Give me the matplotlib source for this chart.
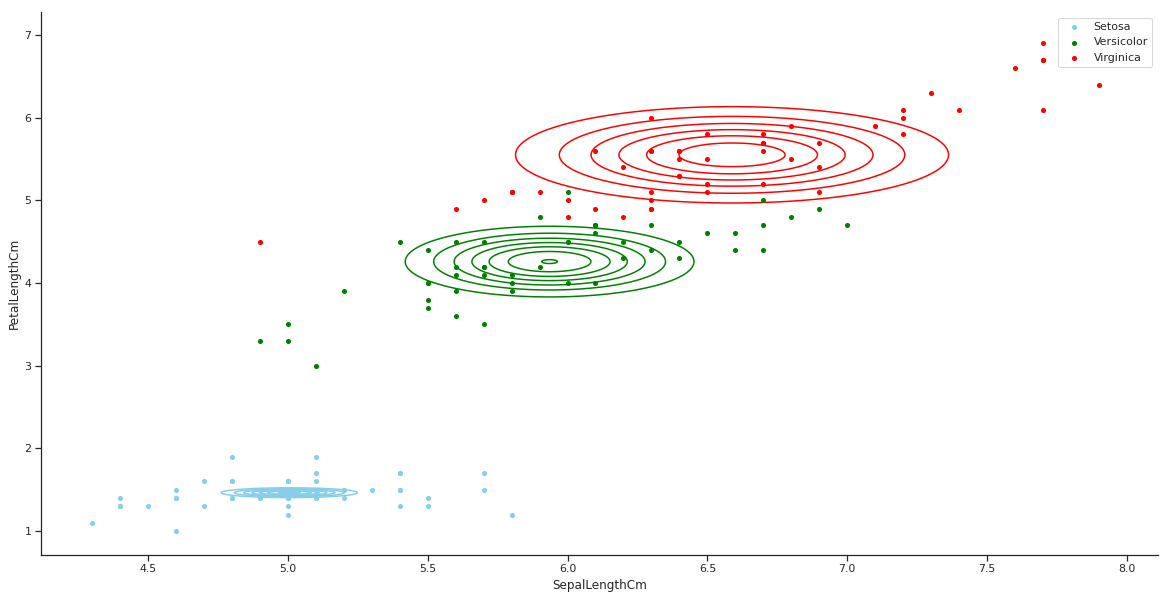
import numpy as np
import matplotlib
matplotlib.use("Agg")
import matplotlib.pyplot as plt
import matplotlib.ticker as mticker
import seaborn as sns

species = ["Setosa", "Versicolor", "Virginica"]
colors = ["skyblue", "green", "red"]

setosa_sepal = [5.1, 4.9, 4.7, 4.6, 5.0, 5.4, 4.6, 5.0, 4.4, 4.9, 5.4, 4.8, 4.8, 4.3, 5.8, 5.7, 5.4, 5.1, 5.7, 5.1,
                5.4, 5.1, 4.6, 5.1, 4.8, 5.0, 5.0, 5.2, 5.2, 4.7, 4.8, 5.4, 5.2, 5.5, 4.9, 5.0, 5.5, 4.9, 4.4, 5.1,
                5.0, 4.5, 4.4, 5.0, 5.1, 4.8, 5.1, 4.6, 5.3, 5.0]
setosa_petal = [1.4, 1.4, 1.3, 1.5, 1.4, 1.7, 1.4, 1.5, 1.4, 1.5, 1.5, 1.6, 1.4, 1.1, 1.2, 1.5, 1.3, 1.4, 1.7, 1.5,
                1.7, 1.5, 1.0, 1.7, 1.9, 1.6, 1.6, 1.5, 1.4, 1.6, 1.6, 1.5, 1.5, 1.4, 1.5, 1.2, 1.3, 1.5, 1.3, 1.5,
                1.3, 1.3, 1.3, 1.6, 1.9, 1.4, 1.6, 1.4, 1.5, 1.4]
versicolor_sepal = [7.0, 6.4, 6.9, 5.5, 6.5, 5.7, 6.3, 4.9, 6.6, 5.2, 5.0, 5.9, 6.0, 6.1, 5.6, 6.7, 5.6, 5.8, 6.2, 5.6,
                    5.9, 6.1, 6.3, 6.1, 6.4, 6.6, 6.8, 6.7, 6.0, 5.7, 5.5, 5.5, 5.8, 6.0, 5.4, 6.0, 6.7, 6.3, 5.6, 5.5,
                    5.5, 6.1, 5.8, 5.0, 5.6, 5.7, 5.7, 6.2, 5.1, 5.7]
versicolor_petal = [4.7, 4.5, 4.9, 4.0, 4.6, 4.5, 4.7, 3.3, 4.6, 3.9, 3.5, 4.2, 4.0, 4.7, 3.6, 4.4, 4.5, 4.1, 4.5, 3.9,
                    4.8, 4.0, 4.9, 4.7, 4.3, 4.4, 4.8, 5.0, 4.5, 3.5, 3.8, 3.7, 3.9, 5.1, 4.5, 4.5, 4.7, 4.4, 4.1, 4.0,
                    4.4, 4.6, 4.0, 3.3, 4.2, 4.2, 4.2, 4.3, 3.0, 4.1]
virginica_sepal = [6.3, 5.8, 7.1, 6.3, 6.5, 7.6, 4.9, 7.3, 6.7, 7.2, 6.5, 6.4, 6.8, 5.7, 5.8, 6.4, 6.5, 7.7, 7.7, 6.0,
                   6.9, 5.6, 7.7, 6.3, 6.7, 7.2, 6.2, 6.1, 6.4, 7.2, 7.4, 7.9, 6.4, 6.3, 6.1, 7.7, 6.3, 6.4, 6.0, 6.9,
                   6.7, 6.9, 5.8, 6.8, 6.7, 6.7, 6.3, 6.5, 6.2, 5.9]
virginica_petal = [6.0, 5.1, 5.9, 5.6, 5.8, 6.6, 4.5, 6.3, 5.8, 6.1, 5.1, 5.3, 5.5, 5.0, 5.1, 5.3, 5.5, 6.7, 6.9, 5.0,
                   5.7, 4.9, 6.7, 4.9, 5.7, 6.0, 4.8, 4.9, 5.6, 5.8, 6.1, 6.4, 5.6, 5.1, 5.6, 6.1, 5.6, 5.5, 4.8, 5.4,
                   5.6, 5.1, 5.1, 5.9, 5.7, 5.2, 5.0, 5.2, 5.4, 5.1]

sepal = [setosa_sepal, versicolor_sepal, virginica_sepal]
petal = [setosa_petal, versicolor_petal, virginica_petal]

sns.set_theme(style="ticks")

fig = plt.figure(figsize=(1169 / 72, 600 / 72), dpi=72)
ax = fig.add_axes([0.035, 0.075, 0.9555, 0.905])

gx = np.linspace(4.0, 8.3, 700)
gy = np.linspace(0.5, 7.5, 900)
XX, YY = np.meshgrid(gx, gy)


def pdf(v, mu, s):
    return np.exp(-0.5 * ((v - mu) / s) ** 2) / (s * np.sqrt(2 * np.pi))


for name, c, sx, py in zip(species, colors, sepal, petal):
    sx = np.asarray(sx)
    py = np.asarray(py)
    mx, my = sx.mean(), py.mean()
    vx, vy = sx.var(), py.var()
    Z = pdf(XX, mx, vx) * pdf(YY, my, vy)
    lev = mticker.MaxNLocator(8, min_n_ticks=1).tick_values(Z.min(), Z.max())
    lev = lev[(lev > 0) & (lev < Z.max())]
    ax.contour(XX, YY, Z, levels=lev, colors=c, linewidths=1.5)

for name, c, sx, py in zip(species, colors, sepal, petal):
    ax.scatter(sx, py, color=c, s=26, label=name, zorder=3, linewidths=0)

ax.set_xlim(4.118, 8.11)
ax.set_ylim(0.71, 7.28)
ax.set_xlabel("SepalLengthCm", fontsize=12)
ax.set_ylabel("PetalLengthCm", fontsize=12)
ax.tick_params(labelsize=11)
sns.despine(ax=ax)
ax.legend(loc="upper right", fontsize=11)

fig.savefig("out.png", dpi=72)
